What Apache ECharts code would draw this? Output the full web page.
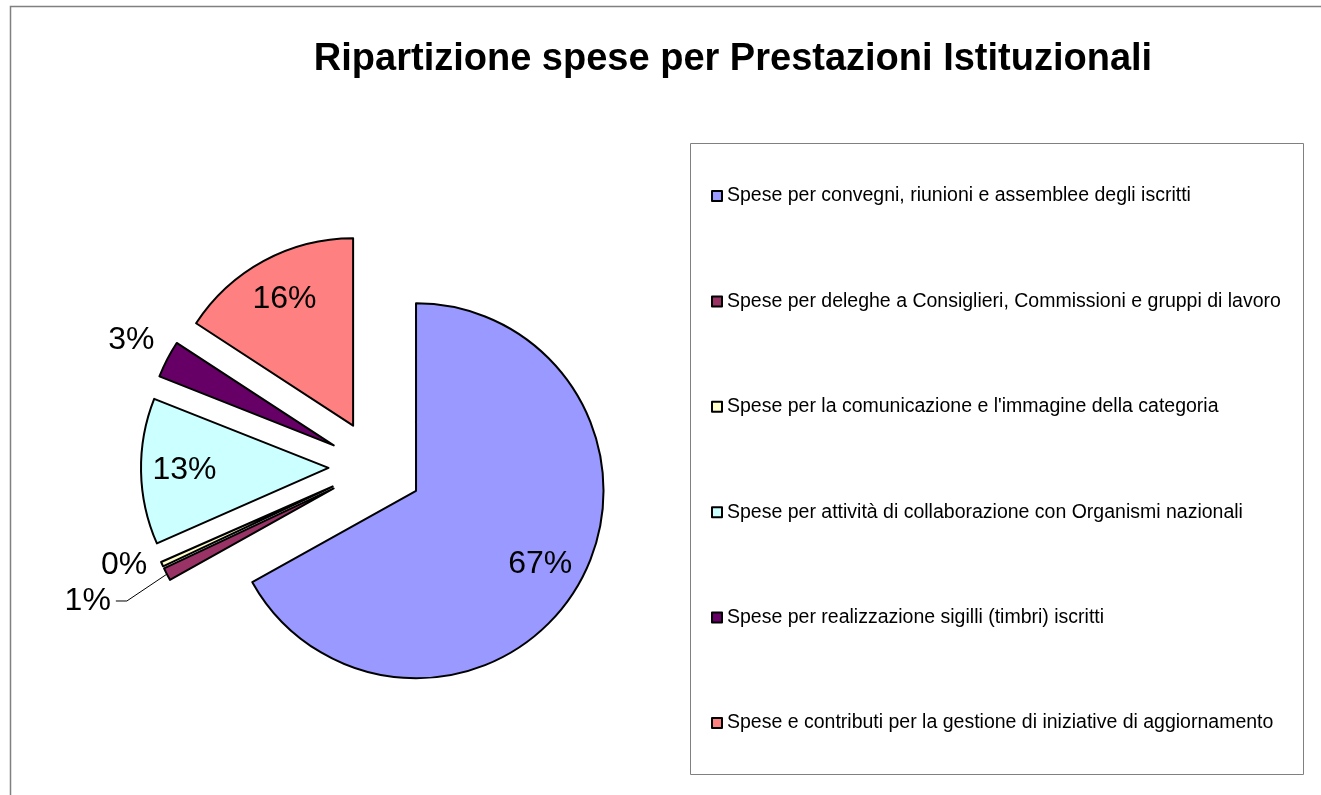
<!DOCTYPE html>
<html>
<head>
<meta charset="utf-8">
<title>Ripartizione spese per Prestazioni Istituzionali</title>
<script src="https://cdn.jsdelivr.net/npm/echarts@6.0.0/dist/echarts.min.js"></script>
<style>
  html, body { margin: 0; padding: 0; background: #fff; }
  #chart { width: 1321px; height: 795px; }
</style>
</head>
<body>
<div id="chart"></div>
<script>
// dati (quote percentuali)
var titleText = 'Ripartizione spese per Prestazioni Istituzionali';
var categories = [
    'Spese per convegni, riunioni e assemblee degli iscritti',
    'Spese per deleghe a Consiglieri, Commissioni e gruppi di lavoro',
    'Spese per la comunicazione e l\'immagine della categoria',
    'Spese per attività di collaborazione con Organismi nazionali',
    'Spese per realizzazione sigilli (timbri) iscritti',
    'Spese e contributi per la gestione di iniziative di aggiornamento'
];
var shares = [66.9, 1.1, 0.4, 12.6, 3.2, 15.8];
var palette = ['#9999FF', '#993366', '#FFFFCC', '#CCFFFF', '#660066', '#FF8080'];

// dove va l'etichetta di ogni fetta
var innerLabels = [0, 3, 5];   // dentro la fetta
var farLabels = [4];           // fuori, senza linea
var outerLabels = [1, 2];      // fuori, sulla serie principale

var FONT = '"Liberation Sans", Arial, Helvetica, sans-serif';
var pieCenter = [375.5, 467];
var pieRadius = 187.5;
var explode = 47;

function buildData(kind, showList) {
    var out = [];
    for (var i = 0; i < categories.length; i++) {
        var item = {
            name: categories[i],
            value: shares[i],
            selected: true,
            label: { show: showList.indexOf(i) >= 0 }
        };
        if (kind === 'main') {
            item.itemStyle = { color: palette[i] };
            if (i === 1) {
                item.labelLine = { show: true, length: 45, length2: 11 };
            } else if (i === 2) {
                item.labelLine = { show: false, length: 2, length2: 4 };
            }
        }
        out.push(item);
    }
    return out;
}

function labelSeries(radius, showList) {
    return {
        type: 'pie',
        silent: true,
        center: pieCenter,
        radius: radius,
        selectedMode: 'multiple',
        selectedOffset: explode,
        percentPrecision: 0,
        itemStyle: { color: 'rgba(0,0,0,0)', borderWidth: 0 },
        emphasis: { disabled: true },
        select: { disabled: false, itemStyle: { color: 'rgba(0,0,0,0)', borderWidth: 0 } },
        label: {
            position: 'inside',
            formatter: '{d}%',
            color: '#000',
            fontSize: 32,
            fontFamily: FONT
        },
        labelLine: { show: false },
        data: buildData('label', showList)
    };
}

var myChart = echarts.init(document.getElementById('chart'));
var option = {
    animation: false,
    backgroundColor: '#fff',
    title: {
        text: titleText,
        left: 728,
        top: 36,
        textAlign: 'center',
        textStyle: { color: '#000', fontSize: 38, fontWeight: 'bold', fontFamily: FONT }
    },
    legend: {
        orient: 'vertical',
        left: 711,
        top: 186,
        padding: 0,
        itemWidth: 10,
        itemHeight: 10,
        itemGap: 85.4,
        icon: 'rect',
        selectedMode: false,
        data: categories,
        itemStyle: { borderColor: '#000', borderWidth: 2 },
        textStyle: { color: '#000', fontSize: 19.5, lineHeight: 20, fontFamily: FONT }
    },
    graphic: [
        {
            type: 'rect',
            silent: true,
            shape: { x: 10.5, y: 6.5, width: 1400, height: 900 },
            style: { fill: null, stroke: '#808080', lineWidth: 1.5 }
        },
        {
            type: 'rect',
            silent: true,
            shape: { x: 690.5, y: 143.5, width: 613, height: 631 },
            style: { fill: null, stroke: '#808080', lineWidth: 1 }
        }
    ],
    series: [
        {
            type: 'pie',
            name: 'main',
            center: pieCenter,
            radius: pieRadius,
            selectedMode: 'multiple',
            selectedOffset: explode,
            percentPrecision: 0,
            avoidLabelOverlap: true,
            itemStyle: { borderColor: '#000', borderWidth: 2 },
            emphasis: { disabled: true },
            label: {
                position: 'outside',
                formatter: '{d}%',
                color: '#000',
                fontSize: 32,
                fontFamily: FONT
            },
            labelLine: { lineStyle: { color: '#000', width: 1 } },
            data: buildData('main', outerLabels)
        },
        labelSeries(2 * 141, innerLabels),
        labelSeries(2 * 225, farLabels)
    ]
};
if (option && typeof option === "object") {
    myChart.setOption(option, true);
}
</script>
</body>
</html>
